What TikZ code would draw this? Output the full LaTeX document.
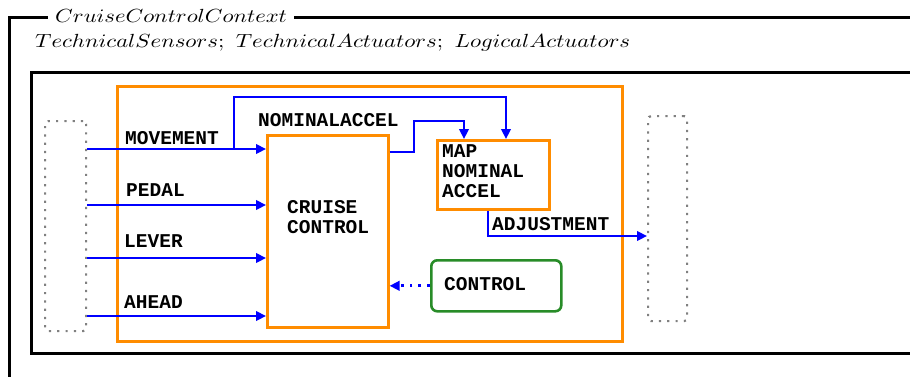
\documentclass[tikz,border=0pt]{standalone}
\usepackage{fontspec}
\usetikzlibrary{arrows.meta}
\newfontfamily\labfont{Liberation Mono}
\definecolor{boxorange}{RGB}{255,140,0}
\definecolor{ctlgreen}{RGB}{40,140,40}
\definecolor{dotgray}{RGB}{128,128,128}
\begin{document}
\begin{tikzpicture}[x=1pt,y=-1pt,
  frame/.style={line width=3pt,black},
  obox/.style={draw=boxorange,line width=2.6pt,inner sep=0pt,anchor=north west},
  gbox/.style={draw=ctlgreen,line width=2.6pt,rounded corners=6pt,inner sep=0pt,anchor=north west},
  dbox/.style={draw=dotgray,line width=2.2pt,dash pattern=on 2.2pt off 6.1pt,rounded corners=3pt,inner sep=0pt,anchor=north west},
  flow/.style={draw=blue,line width=2.3pt,-{Triangle[length=10pt,width=9.5pt]}},
  ctlflow/.style={draw=blue,line width=2.8pt,dash pattern=on 2.8pt off 6pt,-{Triangle[length=10pt,width=9.5pt]}},
  lab/.style={inner sep=0pt,anchor=base west,font=\labfont\bfseries\fontsize{19.5}{20}\selectfont},
  mlab/.style={inner sep=0pt,anchor=base west,align=left,font=\labfont\bfseries\fontsize{19.5}{19.7}\selectfont},
  mtext/.style={inner sep=0pt,anchor=base west},
]
\useasboundingbox (0,0) rectangle (910,376);

% schema frame with its title
\draw[frame] (9,390) -- (9,17) -- (930,17);
\node[fill=white,inner xsep=7pt,inner ysep=3pt,anchor=base west] (title) at (48,22)
  {\scalebox{2.26}[1.9]{$CruiseControlContext$}};
\node[mtext] (decl) at (35,47)
  {\scalebox{2.27}[1.9]{$TechnicalSensors;\ TechnicalActuators;\ LogicalActuators$}};

% inner frame
\draw[frame] (930,72) -- (31,72) -- (31,353) -- (930,353);

% boxes
\node[obox,minimum width=505pt,minimum height=255pt] (sys) at (116,85) {};
\node[dbox,minimum width=41pt,minimum height=210pt] (src) at (44,120) {};
\node[dbox,minimum width=39pt,minimum height=205pt] (sink) at (647,115) {};
\node[obox,minimum width=121pt,minimum height=192pt] (cc) at (266,134) {};
\node[obox,minimum width=112pt,minimum height=69pt] (map) at (436,139) {};
\node[gbox,minimum width=130pt,minimum height=51pt] (ctl) at (430,259) {};

% box texts (base anchor sits on the last line)
\node[mlab] (cctext) at (287,233) {CRUISE\\CONTROL};
\node[mlab] (maptext) at (442,197) {MAP\\NOMINAL\\ACCEL};
\node[lab] (ctltext) at (444,290) {CONTROL};

% connector labels
\node[lab] (lmove) at (125,144) {MOVEMENT};
\node[lab] (lpedal) at (126,196) {PEDAL};
\node[lab] (llever) at (124,247) {LEVER};
\node[lab] (lahead) at (124,308) {AHEAD};
\node[lab] (lnom) at (258,126) {NOMINALACCEL};
\node[lab] (ladj) at (492,230) {ADJUSTMENT};

% input flows
\draw[flow] (src.east |- 0,149) -- (cc.west |- 0,149);
\draw[flow] (src.east |- 0,205) -- (cc.west |- 0,205);
\draw[flow] (src.east |- 0,258) -- (cc.west |- 0,258);
\draw[flow] (src.east |- 0,316) -- (cc.west |- 0,316);

% movement branch to the map
\coordinate (split) at (234,149);
\draw[flow] (split) |- (506,97) -- (map.north -| 506,0);

% nominal acceleration
\draw[flow] (cc.east |- 0,152) -- (414,152) |- (464,121) -- (map.north -| 464,0);

% adjustment output
\draw[flow] (map.south -| 488,0) |- (sink.west |- 0,236);

% control flow
\draw[ctlflow] (ctl.west) -- (cc.east |- ctl.west);
\end{tikzpicture}
\end{document}
